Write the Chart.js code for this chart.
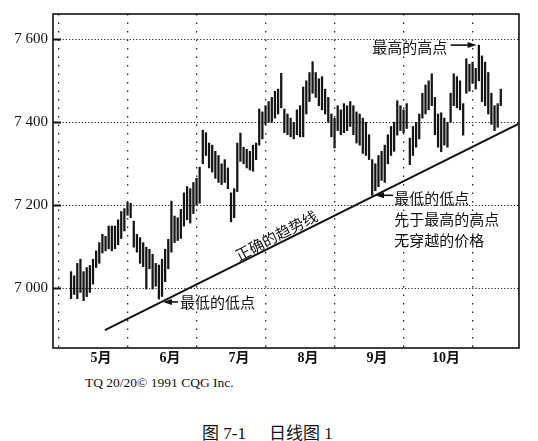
<!DOCTYPE html>
<html><head><meta charset="utf-8">
<script src="https://cdn.jsdelivr.net/npm/chart.js@4"></script>
<style>
html,body{margin:0;padding:0;background:#fff;}
#wrap{position:relative;width:538px;height:441px;overflow:hidden;background:#fff;}
canvas{position:absolute;left:0;top:0;}
.note{position:absolute;font-family:"Liberation Serif",serif;color:#111;white-space:pre;}
</style></head><body>
<div id="wrap">
<canvas id="c" width="538" height="370"></canvas>
<div class="note" style="left:85px;top:375px;font-size:13.5px;">TQ 20/20© 1991 CQG Inc.</div>
<div class="note" style="left:202px;top:419px;font-size:17px;font-family:'Liberation Serif','Noto Sans CJK SC';">图 7-1<span style="display:inline-block;width:23px"></span>日线图 1</div>
</div>
<script>
// ---- data ----
const firstIndex = -7;
const highs = [7040,7030,7060,7070,7040,7050,7055,7070,7090,7110,7130,7125,7150,7150,7150,7165,7185,7192,7207,7205,
7162,7130,7122,7110,7099,7094,7082,7060,7056,7070,7094,7118,7210,7174,7170,7190,7230,7245,7240,7255,
7265,7292,7381,7375,7350,7345,7330,7320,7300,7310,7290,7230,7240,7350,7374,7340,7335,7330,7345,7350,
7432,7425,7440,7450,7460,7475,7480,7518,7432,7420,7410,7400,7430,7440,7485,7500,7520,7546,7520,7505,
7510,7480,7460,7420,7410,7440,7430,7445,7440,7450,7440,7425,7420,7410,7400,7370,7310,7300,7320,7330,
7345,7370,7390,7400,7452,7440,7430,7445,7362,7390,7400,7420,7470,7490,7500,7517,7460,7420,7423,7410,
7400,7470,7517,7510,7500,7445,7553,7540,7545,7530,7586,7560,7545,7520,7470,7440,7445,7480];
const lows = [6975,6985,6975,6990,6970,6980,6990,7010,7050,7060,7085,7090,7095,7090,7095,7105,7120,7138,7176,7170,
7099,7087,7060,7052,6998,7047,6998,7005,6974,6980,7016,7047,7087,7110,7115,7120,7150,7165,7157,7180,
7200,7205,7300,7320,7290,7280,7265,7255,7250,7255,7240,7160,7170,7233,7306,7300,7290,7285,7282,7310,
7345,7360,7395,7400,7400,7410,7420,7435,7375,7370,7365,7360,7370,7365,7365,7420,7450,7470,7460,7440,
7430,7420,7400,7365,7338,7380,7370,7375,7380,7390,7370,7350,7345,7325,7320,7310,7224,7235,7245,7260,
7255,7300,7320,7330,7369,7380,7375,7385,7298,7320,7340,7360,7410,7420,7430,7440,7370,7340,7329,7345,
7340,7400,7440,7435,7430,7369,7470,7475,7494,7480,7500,7450,7440,7420,7395,7380,7388,7440];
const monthStarts = [0, 22, 44, 66, 88, 110];
const monthLabels = ['5月', '6月', '7月', '8月', '9月', '10月'];
const yTicks = [7000, 7200, 7400, 7600];
const yTickLabels = ['7 000', '7 200', '7 400', '7 600'];
const trendX = [3.8, 135.8];
const trendY = [6899, 7397];

// ---- annotations (data coordinates) ----
const arrowNotes = [
  {from: [114, 7586], to: [122.3, 7586]},
  {from: [27.1, 6967], to: [22.3, 6967]},
  {from: [95.7, 7224], to: [89.9, 7224]}
];
const textNotes = [
  {t: '最高的高点', at: [89, 7581]},
  {t: '最低的低点', at: [27.7, 6967]},
  {t: '最低的低点', at: [96, 7216]},
  {t: '先于最高的高点', at: [96, 7165]},
  {t: '无穿越的价格', at: [96, 7115]}
];
const trendNote = {t: '正确的趋势线', at: [58.4, 7127], angle: -27.5};

const barData = highs.map((h, k) => ({x: firstIndex + k, y: [lows[k], h]}));
const trendData = trendX.map((x, k) => ({x: x, y: trendY[k]}));

const CJK = '"Noto Sans CJK SC", sans-serif';

const decor = {
  id: 'decor',
  afterDraw(chart) {
    const {ctx, chartArea: a, scales: {x, y}} = chart;
    ctx.save();
    ctx.strokeStyle = '#111';
    ctx.lineWidth = 2;
    yTicks.forEach(v => {
      const py = Math.round(y.getPixelForValue(v)) + 0.5;
      ctx.beginPath(); ctx.moveTo(a.left, py); ctx.lineTo(a.left + 8, py); ctx.stroke();
    });
    ctx.lineWidth = 1.6;
    ctx.strokeRect(a.left, a.top, a.right - a.left, a.bottom - a.top);
    ctx.fillStyle = '#111';
    arrowNotes.forEach(n => {
      const x1 = x.getPixelForValue(n.from[0]), y1 = y.getPixelForValue(n.from[1]);
      const x2 = x.getPixelForValue(n.to[0]), y2 = y.getPixelForValue(n.to[1]);
      const dir = Math.sign(x2 - x1);
      ctx.beginPath(); ctx.moveTo(x1, y1); ctx.lineTo(x2 - dir * 6, y2); ctx.stroke();
      ctx.beginPath(); ctx.moveTo(x2, y2); ctx.lineTo(x2 - dir * 9, y2 - 3); ctx.lineTo(x2 - dir * 9, y2 + 3); ctx.closePath(); ctx.fill();
    });
    ctx.font = '15px ' + CJK;
    ctx.textBaseline = 'middle';
    ctx.textAlign = 'left';
    textNotes.forEach(n => {
      ctx.fillText(n.t, x.getPixelForValue(n.at[0]), y.getPixelForValue(n.at[1]));
    });
    ctx.save();
    ctx.translate(x.getPixelForValue(trendNote.at[0]), y.getPixelForValue(trendNote.at[1]));
    ctx.rotate(trendNote.angle * Math.PI / 180);
    ctx.textAlign = 'center';
    ctx.fillText(trendNote.t, 0, 0);
    ctx.restore();
    ctx.restore();
  }
};

new Chart(document.getElementById('c'), {
  type: 'bar',
  data: {
    datasets: [
      {type: 'bar', data: barData, backgroundColor: '#151515', borderWidth: 0, barThickness: 1.6},
      {type: 'line', data: trendData, borderColor: '#111', borderWidth: 2, pointRadius: 0, fill: false, tension: 0}
    ]
  },
  options: {
    responsive: false,
    animation: false,
    devicePixelRatio: 1,
    layout: {padding: {left: 0, top: 6, right: 19, bottom: 0}},
    plugins: {legend: {display: false}, tooltip: {enabled: false}},
    scales: {
      x: {
        type: 'linear', min: -12.75, max: 135.8, offset: false,
        afterBuildTicks: s => { s.ticks = monthStarts.map(v => ({value: v})); },
        afterFit: s => { s.height = 22; },
        ticks: {
          callback: (v, i) => monthLabels[i],
          autoSkip: false, maxRotation: 0, labelOffset: 8, padding: 2,
          color: '#111', font: {family: '"Liberation Serif", "Noto Sans CJK SC"', size: 14, weight: 'bold'}
        },
        grid: {color: '#222', lineWidth: 1.3, drawTicks: false},
        border: {display: false, dash: [1.5, 7]}
      },
      y: {
        type: 'linear', min: 6856, max: 7661,
        afterBuildTicks: s => { s.ticks = yTicks.map(v => ({value: v})); },
        afterFit: s => { s.width = 53; },
        ticks: {
          callback: (v, i) => yTickLabels[i],
          padding: 5, color: '#111',
          font: {family: '"Liberation Serif", serif', size: 15}
        },
        grid: {color: '#222', lineWidth: 1, drawTicks: false},
        border: {display: false, dash: [1.2, 2]}
      }
    }
  },
  plugins: [decor]
});
</script>
</body></html>
